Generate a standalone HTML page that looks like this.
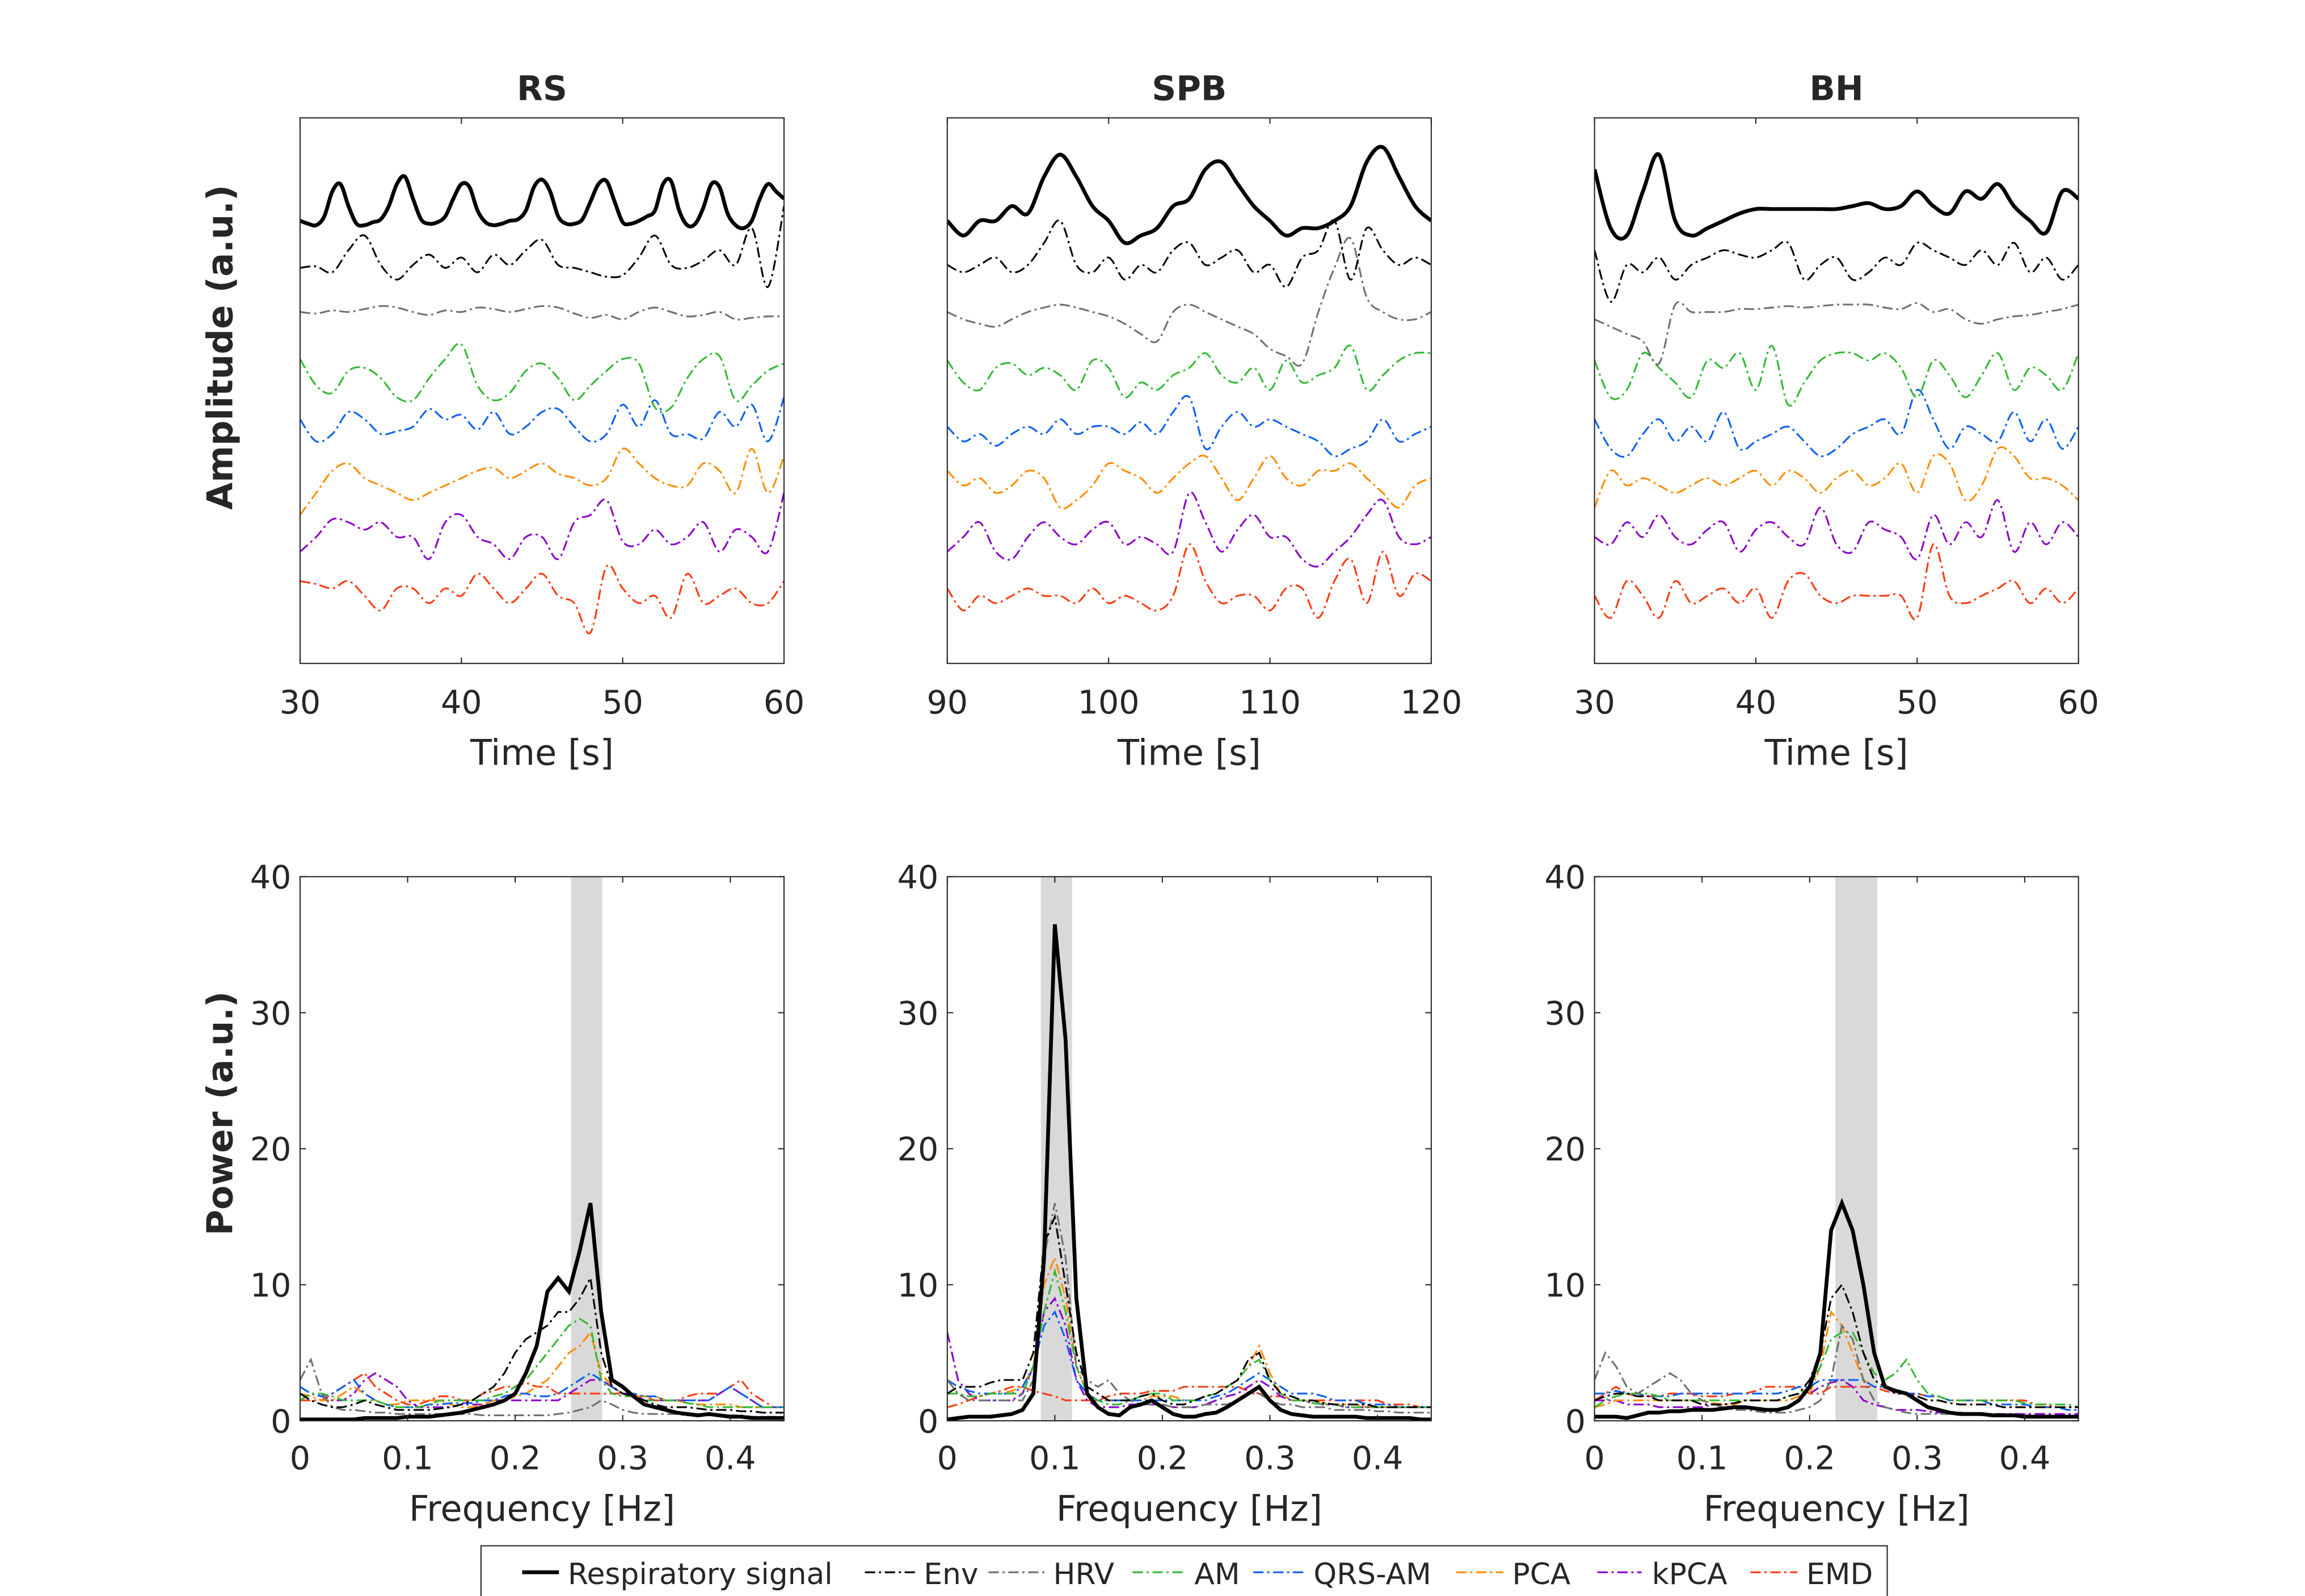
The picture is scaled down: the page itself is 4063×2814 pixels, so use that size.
<!DOCTYPE html>
<html><head><meta charset="utf-8"><style>
html,body{margin:0;padding:0;background:#fff}
svg{display:block}
text{font-family:"DejaVu Sans","Liberation Sans",sans-serif;fill:#262626}
</style></head><body>
<svg id="fig" width="4063" height="2814" viewBox="0 0 1567 1085" xmlns="http://www.w3.org/2000/svg"></svg>
<script>
// ---------- DATA ----------
const seriesNames = ["Respiratory signal","Env","HRV","AM","QRS-AM","PCA","kPCA","EMD"];
const seriesColors = ["#000000","#000000","#707070","#33b833","#0a5ff0","#ff8c00","#8a00c8","#ff3a10"];
const panelTitles = ["RS","SPB","BH"];
const timeStart = [30,90,30];
const timeTicks = [[30,40,50,60],[90,100,110,120],[30,40,50,60]];
const freqTicks = [0,0.1,0.2,0.3,0.4];
const freqTickLabels = ["0","0.1","0.2","0.3","0.4"];
const powerTicks = [0,10,20,30,40];
const bandLo = [0.252,0.087,0.224];
const bandHi = [0.281,0.116,0.263];
const baseRS = [296,266,239,189,161,121,86,46];
const baseSPB = [296,266,239,196,156,121,86,46];
const baseBH = [296,266,239,196,156,121,86,46];
// time-domain amplitudes (arbitrary units) relative to baselines
const rsResp = [5,3,2,8,25,30,15,3,2,4,6,15,30,35,20,6,3,4,8,20,30,28,12,4,2,3,5,6,12,28,33,25,8,3,3,6,18,30,32,18,4,3,5,8,12,30,32,12,2,3,14,30,28,10,2,0,5,20,30,25,20];
const rsEnv = [3,4,0,15,25,5,-5,5,12,3,10,0,12,5,15,22,5,3,0,-3,-2,10,25,5,3,8,15,5,30,-10,45];
const rsHRV = [0,-1,1,0,2,4,3,0,-2,1,0,3,2,0,2,4,3,-1,-4,-2,-5,0,3,0,-3,-2,0,-5,-4,-3,-3];
const rsAM = [18,0,-5,10,12,5,-8,-10,5,18,28,0,-10,-5,10,15,5,-10,0,10,18,15,-15,-15,5,18,20,-10,0,10,15];
const rsQRS = [5,-10,-5,10,5,-5,-3,0,12,5,8,-2,10,-5,0,10,12,0,-10,-5,15,0,18,-5,-5,-8,10,0,15,-10,20];
const rsPCA = [-20,-5,10,15,5,0,-5,-10,-5,0,5,10,12,5,10,15,8,5,0,5,25,15,5,0,0,15,10,-5,25,-5,20];
const rsKPCA = [-10,0,12,10,5,10,0,0,-15,10,15,0,-5,-15,0,0,-15,10,15,25,-3,-5,5,-5,0,10,-10,5,0,-10,30];
const rsEMD = [10,8,5,10,0,-10,5,5,-5,5,0,15,5,-5,5,15,0,-5,-25,20,5,-5,0,-15,15,-5,0,5,-5,-5,10];
const spbResp = [5,-5,5,5,15,10,35,50,35,15,5,-10,-5,0,15,20,40,45,30,15,5,-5,0,0,5,15,45,55,35,15,5];
const spbEnv = [5,0,5,10,0,5,20,35,5,0,10,-5,5,0,15,20,5,10,15,0,5,-10,10,15,35,-5,30,15,5,10,5];
const spbHRV = [0,-5,-8,-10,-5,0,3,5,3,0,-3,-8,-15,-20,0,5,0,-5,-10,-15,-25,-30,-35,0,30,50,10,0,-5,-5,0];
const spbAM = [10,-5,-10,5,8,0,5,0,-10,10,5,-15,-5,-10,0,5,15,0,-5,5,-10,10,-5,0,5,20,-10,0,10,15,15];
const spbQRS = [5,-5,0,-8,0,5,0,10,0,5,5,0,8,0,15,25,-10,5,15,5,10,5,0,-5,-15,-10,-5,10,-5,0,5];
const spbPCA = [10,0,5,-5,0,10,5,-15,-10,0,15,10,5,-5,5,15,20,5,-10,5,20,5,0,10,10,15,5,-5,-15,0,5];
const spbKPCA = [-10,0,10,-10,-15,0,10,0,-5,5,10,-5,0,-5,-10,30,10,-10,5,15,0,0,-15,-20,-10,0,15,25,0,-5,0];
const spbEMD = [5,-10,0,-5,0,5,0,0,-5,5,-5,0,-5,-10,0,35,10,-5,0,0,-10,5,5,-15,10,25,-5,30,0,15,10];
const bhResp = [40,0,-5,25,50,5,-5,0,5,10,13,13,13,13,13,13,15,17,13,15,25,15,10,25,20,30,15,5,-3,25,20];
const bhEnv = [15,-20,5,0,10,-5,5,10,15,12,10,15,20,-5,5,10,-5,0,10,5,20,15,10,5,15,5,20,0,10,-5,5];
const bhHRV = [-5,-10,-15,-20,-35,5,0,0,0,2,2,3,4,3,4,5,5,5,3,2,6,0,2,-5,-8,-5,-3,-2,0,2,5];
const bhAM = [10,-15,-10,15,5,-5,-15,10,5,15,-10,20,-20,-5,10,15,15,10,15,5,-15,10,0,-15,0,15,-10,5,0,-10,15];
const bhQRS = [10,-10,-15,0,10,-5,5,-5,15,-10,-5,0,5,-5,-15,-10,0,5,10,0,30,10,-10,5,0,-5,15,-5,10,-10,5];
const bhPCA = [-15,10,0,5,0,-5,0,5,0,5,10,0,10,5,-5,5,10,0,5,15,-5,20,15,-10,0,25,20,5,5,0,-10];
const bhKPCA = [0,-5,10,0,15,0,-5,5,10,-10,5,10,0,-5,20,-5,-10,10,5,0,-15,15,-5,10,0,25,-10,10,-5,10,0];
const bhEMD = [0,-15,10,0,-15,10,-5,0,5,-5,5,-15,10,15,0,-5,0,0,0,0,-15,35,0,-5,0,5,10,-5,5,-5,5];
// spectra, 0..0.45 Hz step 0.01
const rsPResp = [0.1,0.1,0.1,0.1,0.1,0.1,0.2,0.2,0.2,0.2,0.3,0.3,0.3,0.4,0.5,0.6,0.8,1.0,1.2,1.5,2.0,3.5,5.5,9.5,10.5,9.5,12.5,16,8,3,2.5,1.8,1.2,1.0,0.8,0.6,0.5,0.4,0.5,0.4,0.3,0.3,0.2,0.2,0.2,0.2];
const rsPEnv = [2,1.5,1.2,1,1,1.2,1.5,1.2,1,0.8,0.8,0.8,0.8,0.9,1,1.2,1.5,2,2.5,3.5,5,6,6.5,7,8,8,9,10.5,5,2.5,2,1.8,1.5,1.2,1,1,1,0.9,0.8,0.8,0.8,0.7,0.7,0.6,0.6,0.6];
const rsPHRV = [3,4.5,2,1,0.8,0.8,0.7,0.6,0.6,0.5,0.5,0.5,0.5,0.5,0.5,0.5,0.5,0.4,0.4,0.4,0.4,0.4,0.4,0.4,0.5,0.6,0.8,1,1.5,1.2,0.8,0.6,0.5,0.5,0.5,0.5,0.4,0.4,0.4,0.4,0.4,0.4,0.3,0.3,0.3,0.3];
const rsPAM = [1.5,2,2,1.8,1.5,1.5,1.5,1.5,1.2,1,1,1,1.2,1.5,1.5,1.5,1.5,1.5,1.8,2,2.5,3,4,5,6,7,7.5,7,3,2,1.8,1.8,1.5,1.5,1.5,1.5,1.3,1.2,1,1,1,1,1,1,1,1];
const rsPQRS = [2.5,2,1.8,2,2.5,3,2,1.5,1.2,1,1,1,1.2,1.2,1.3,1.3,1.3,1.5,1.5,1.8,2,2,1.8,1.8,2,2.5,3,3.5,3,2.5,2,2,1.8,1.8,1.5,1.5,1.5,1.5,1.5,2,2.5,2,1.5,1,1,1];
const rsPPCA = [2,1.8,1.5,1.5,2,2.5,2,1.5,1.2,1.2,1.5,1.5,1.5,1.5,1.2,1,1,1.2,1.5,1.5,1.8,2,2.5,3,4,5,5.5,6.5,3.5,2.5,2,1.8,1.8,1.8,1.5,1.5,1.3,1.2,1.2,1.2,1.2,1,1,1,1,1];
const rsPKPCA = [1.5,2,1.8,1.5,1.5,2,3,3.5,3,2.5,1.5,1,1,1,1,1.2,1.2,1.2,1.5,1.5,1.5,1.5,1.5,1.5,1.5,2,2.5,3,3,2.5,2,2,1.5,1.5,1.5,1.5,1.5,1.5,1.5,2,2.5,2,1.5,1,1,1];
const rsPEMD = [1.5,1.5,1.5,2,2.5,3,3.5,2.5,2,1.5,1.2,1.2,1.5,1.8,1.8,1.5,1.5,2,2.2,2.5,2.5,2.8,2.5,2.5,2,2,2,2,2,2,2,1.8,1.8,1.5,1.5,1.5,1.8,2,2,2,2.5,3,2,1.5,1,1];
const spbPResp = [0.1,0.2,0.3,0.3,0.3,0.4,0.5,0.8,2,12,36.5,28,9,2,1,0.5,0.4,1,1.2,1.5,1,0.5,0.3,0.3,0.5,0.6,1,1.5,2,2.5,1.5,0.8,0.5,0.4,0.3,0.3,0.3,0.3,0.3,0.2,0.2,0.2,0.2,0.2,0.1,0.1];
const spbPEnv = [2,2.5,2.5,2.5,2.8,3,3,3,5,13,15,10,5,2.5,2,1.5,1.5,1.5,1.8,2,1.5,1.2,1.2,1.5,1.8,2,2.5,3,4.5,5,3,2,1.8,1.5,1.5,1.3,1.2,1.2,1.2,1.2,1,1,1,1,1,1];
const spbPHRV = [3,2,1.5,1.5,1.5,1.5,1.5,1.5,3,12,16,12,4,3,2.5,3,2,1.5,1.2,1.2,1.2,1,1,1,1.2,1.2,1.2,1.5,2,2,1.5,1.2,1.2,1,1,1,0.8,0.8,0.8,0.8,0.7,0.7,0.6,0.6,0.6,0.6];
const spbPAM = [2,2,1.8,1.8,2,2,2,2,4,8,11,8,4,2,1.5,1.2,1.2,1.5,1.8,2,2,1.5,1.5,1.5,1.8,2,2.5,3,4,4.5,3,2,1.5,1.5,1.3,1.2,1.2,1,1,1,1,1,1,1,1,1];
const spbPQRS = [3,2.5,2.2,2,2,2,2,2.5,4,7,8,6,3,2,1.5,1.5,1.5,1.5,1.5,1.5,1.5,1.5,1.5,1.5,1.5,1.8,2,2.5,3,3.5,3,2.5,2,2,2,1.8,1.5,1.5,1.5,1.2,1.2,1.2,1,1,1,1];
const spbPPCA = [2,2,1.8,1.8,2,2,2.2,2.5,4,10,12,9,4,2,1.5,1.5,1.5,1.5,1.5,1.8,1.8,1.8,1.5,1.5,1.8,2,2.5,3,4,5.5,3.5,2,1.5,1.5,1.5,1.3,1.2,1.2,1.2,1,1,1,1,1,1,1];
const spbPKPCA = [6.5,3,2,1.5,1.5,1.5,1.5,2,4,8,9,7,3,1.5,1,1,1,1.2,1.2,1.2,1.2,1,1,1,1.2,1.5,1.8,2,2.5,3,2.5,1.8,1.5,1.5,1.3,1.2,1.2,1,1,1,1,1,1,1,1,1];
const spbPEMD = [1,1.2,1.5,1.8,2,2.2,2.5,2.5,2.2,2,1.8,1.5,1.5,1.5,1.5,1.8,2,2,2,2.2,2.2,2.2,2.5,2.5,2.5,2.5,2.5,2.5,2.2,2,1.8,1.8,1.5,1.5,1.5,1.5,1.5,1.5,1.5,1.5,1.5,1.2,1.2,1.2,1,1];
const bhPResp = [0.3,0.3,0.3,0.2,0.4,0.6,0.6,0.7,0.7,0.8,0.8,0.8,0.9,1,1,0.9,0.8,0.8,1,1.5,2.5,5,14,16,14,10,5,2.5,2.2,2,1.5,1,0.8,0.6,0.5,0.5,0.5,0.4,0.4,0.4,0.3,0.3,0.3,0.3,0.3,0.3];
const bhPEnv = [1.5,1.8,2,2,1.8,1.8,1.5,1.5,1.5,1.5,1.2,1.2,1.2,1.3,1.5,1.5,1.5,1.5,1.8,2,3,5,9,10,8,5,3,2.5,2,2,1.8,1.5,1.5,1.3,1.2,1.2,1.2,1.2,1,1,1,1,1,1,1,1];
const bhPHRV = [3,5,4,2.5,2,2.5,3,3.5,3,2,1.5,1.2,1,0.8,0.8,0.7,0.6,0.6,0.6,0.8,1,1.5,3,7,6,3,1.5,1,0.8,0.6,0.5,0.5,0.5,0.5,0.5,0.5,0.4,0.4,0.4,0.4,0.4,0.4,0.3,0.3,0.3,0.3];
const bhPAM = [1,1.5,1.8,2,2,2,1.8,1.5,1.5,1.5,1.5,1.5,1.5,1.5,1.5,1.5,1.5,1.5,1.8,2,2.5,4,6,6.5,6.5,5,3.5,3,3.5,4.5,3,2,1.8,1.5,1.5,1.5,1.5,1.5,1.5,1.5,1.3,1.2,1.2,1.2,1.2,1];
const bhPQRS = [2,2,2.2,2,2,1.8,1.8,1.8,2,2,2,2,2,2,2,2,2,2,2.2,2.5,2.5,3,3,3,3,3,2.5,2.5,2,2,2,1.8,1.8,1.5,1.5,1.5,1.5,1.2,1.2,1.2,1.2,1,1,1,0.8,0.8];
const bhPPCA = [1,1.2,1.5,1.5,1.5,1.5,1.5,1.5,1.5,1.5,1.5,1.3,1.2,1.2,1.5,1.5,1.5,1.5,1.5,1.8,2,4,8,7,5,3,2.5,2.5,2.2,2,1.8,1.5,1.5,1.3,1.2,1.2,1.2,1.2,1,1,1,1,1,1,1,1];
const bhPKPCA = [1.5,1.5,1.5,1.2,1.2,1.2,1,1,1,1,1,1.2,1.2,1.2,1.5,1.5,1.5,1.5,1.5,1.8,2,2.5,2.8,3,2.5,1.5,1.2,1,0.8,0.8,0.8,0.7,0.6,0.6,0.6,0.5,0.5,0.5,0.5,0.5,0.5,0.5,0.5,0.5,0.5,0.5];
const bhPEMD = [1.5,2,2.5,2,1.8,1.8,1.8,2,2,2,1.8,1.8,1.8,2,2,2.2,2.5,2.5,2.5,2.5,2,2,2.5,2.5,2.5,2.5,2.5,2.2,2,2,2,1.8,1.8,1.5,1.5,1.5,1.5,1.5,1.5,1.5,1.5,1.2,1.2,1,1,1];

const timeData = [
 [rsResp,rsEnv,rsHRV,rsAM,rsQRS,rsPCA,rsKPCA,rsEMD],
 [spbResp,spbEnv,spbHRV,spbAM,spbQRS,spbPCA,spbKPCA,spbEMD],
 [bhResp,bhEnv,bhHRV,bhAM,bhQRS,bhPCA,bhKPCA,bhEMD]];
const timeBase = [baseRS,baseSPB,baseBH];
const specData = [
 [rsPResp,rsPEnv,rsPHRV,rsPAM,rsPQRS,rsPPCA,rsPKPCA,rsPEMD],
 [spbPResp,spbPEnv,spbPHRV,spbPAM,spbPQRS,spbPPCA,spbPKPCA,spbPEMD],
 [bhPResp,bhPEnv,bhPHRV,bhPAM,bhPQRS,bhPPCA,bhPKPCA,bhPEMD]];

// ---------- RENDER ----------
const NS="http://www.w3.org/2000/svg";
const svg=document.getElementById('fig');
function mk(tag,attrs,parent){const e=document.createElementNS(NS,tag);for(const k in attrs)e.setAttribute(k,attrs[k]);(parent||svg).appendChild(e);return e;}
const panelX=[204,644,1084], PW=329;
const topY0=80, topY1=451, botY0=596, botY1=966;
const DASH="7,2.5,1.5,2.5";

function smoothPath(pts){
  let d="M"+pts[0][0].toFixed(2)+","+pts[0][1].toFixed(2);
  for(let i=0;i<pts.length-1;i++){
    const p0=pts[Math.max(0,i-1)],p1=pts[i],p2=pts[i+1],p3=pts[Math.min(pts.length-1,i+2)];
    const c1x=p1[0]+(p2[0]-p0[0])/6,c1y=p1[1]+(p2[1]-p0[1])/6;
    const c2x=p2[0]-(p3[0]-p1[0])/6,c2y=p2[1]-(p3[1]-p1[1])/6;
    d+=" C"+c1x.toFixed(2)+","+c1y.toFixed(2)+" "+c2x.toFixed(2)+","+c2y.toFixed(2)+" "+p2[0].toFixed(2)+","+p2[1].toFixed(2);
  }
  return d;
}

for(let p=0;p<3;p++){
  const x0=panelX[p];
  const g=mk('g',{});
  
  
  const t=mk('text',{x:x0+PW/2,y:68,'text-anchor':'middle','font-size':23,'font-weight':'bold'},g);
  t.textContent=panelTitles[p];
  
  
  const tx=v=>x0+(v-timeStart[p])/30*PW;
  const ty=v=>topY1-v/371*(topY1-topY0);
  const clipId='clipT'+p;
  const cp=mk('clipPath',{id:clipId},g);mk('rect',{x:x0,y:topY0,width:PW,height:topY1-topY0},cp);
  for(let s=seriesNames.length-1;s>=0;s--){
    const arr=timeData[p][s];const n=arr.length;
    const pts=arr.map((v,i)=>[tx(timeStart[p]+30*i/(n-1)),ty(timeBase[p][s]+v)]);
    const path=mk('path',{d:smoothPath(pts),fill:'none',stroke:seriesColors[s],'stroke-width':s===0?2.6:1.2,'stroke-dasharray':s===0?'none':DASH,'clip-path':'url(#'+clipId+')'},g);
    
    
  }
  mk('rect',{x:x0,y:topY0,width:PW,height:topY1-topY0,fill:'none',stroke:'#262626','stroke-width':0.8},g);
  timeTicks[p].forEach(v=>{
    const X=tx(v);
    mk('line',{x1:X,x2:X,y1:topY1,y2:topY1-4,stroke:'#262626','stroke-width':0.8},g);
    mk('line',{x1:X,x2:X,y1:topY0,y2:topY0+4,stroke:'#262626','stroke-width':0.8},g);
    const l=mk('text',{x:X,y:485,'text-anchor':'middle','font-size':22},g);l.textContent=v;
    
    
  });
  const xl=mk('text',{x:x0+PW/2,y:520,'text-anchor':'middle','font-size':24},g);xl.textContent='Time [s]';
  
  

  const h=mk('g',{});
  
  
  const fx=v=>x0+v/0.45*PW;
  const fy=v=>botY1-v/40*(botY1-botY0);
  const band=mk('rect',{x:fx(bandLo[p]),y:botY0,width:fx(bandHi[p])-fx(bandLo[p]),height:botY1-botY0,fill:'#d9d9d9'},h);
  
  
  const clipB='clipB'+p;
  const cb=mk('clipPath',{id:clipB},h);mk('rect',{x:x0,y:botY0,width:PW,height:botY1-botY0},cb);
  for(let s=seriesNames.length-1;s>=0;s--){
    const arr=specData[p][s];
    const d=arr.map((v,i)=>(i?'L':'M')+fx(i*0.01).toFixed(2)+','+fy(v).toFixed(2)).join(' ');
    const path=mk('path',{d:d,fill:'none',stroke:seriesColors[s],'stroke-width':s===0?2.6:1.2,'stroke-dasharray':s===0?'none':DASH,'clip-path':'url(#'+clipB+')'},h);
    
    
  }
  mk('rect',{x:x0,y:botY0,width:PW,height:botY1-botY0,fill:'none',stroke:'#262626','stroke-width':0.8},h);
  freqTicks.forEach((v,i)=>{
    const X=fx(v);
    mk('line',{x1:X,x2:X,y1:botY1,y2:botY1-4,stroke:'#262626','stroke-width':0.8},h);
    mk('line',{x1:X,x2:X,y1:botY0,y2:botY0+4,stroke:'#262626','stroke-width':0.8},h);
    const l=mk('text',{x:X,y:999,'text-anchor':'middle','font-size':22},h);l.textContent=freqTickLabels[i];
    
    
  });
  powerTicks.forEach(v=>{
    const Y=fy(v);
    mk('line',{x1:x0,x2:x0+4,y1:Y,y2:Y,stroke:'#262626','stroke-width':0.8},h);
    mk('line',{x1:x0+PW,x2:x0+PW-4,y1:Y,y2:Y,stroke:'#262626','stroke-width':0.8},h);
    const l=mk('text',{x:x0-6,y:Y+8,'text-anchor':'end','font-size':22},h);l.textContent=v;
    
    
  });
  const fl=mk('text',{x:x0+PW/2,y:1034,'text-anchor':'middle','font-size':24},h);fl.textContent='Frequency [Hz]';
  
  
}
const ya=mk('text',{x:0,y:0,'text-anchor':'middle','font-size':24,'font-weight':'bold',transform:'translate(158,236) rotate(-90)'});
ya.textContent='Amplitude (a.u.)';


const yp=mk('text',{x:0,y:0,'text-anchor':'middle','font-size':24,'font-weight':'bold',transform:'translate(158,757) rotate(-90)'});
yp.textContent='Power (a.u.)';



const lg=mk('g',{});


mk('rect',{x:327,y:1051,width:956,height:35,fill:'#fff',stroke:'#262626','stroke-width':0.8},lg);
const legLine=[[355,380],[588,622],[672,710],[770,806],[852,888],[990,1022],[1086,1116],[1190,1222]];
const legText=[386,628,716,812,893,1028,1123,1228];
for(let s=0;s<seriesNames.length;s++){
  const e=mk('g',{},lg);
  
  
  mk('line',{x1:legLine[s][0],x2:legLine[s][1],y1:1069,y2:1069,stroke:seriesColors[s],'stroke-width':s===0?2.6:1.2,'stroke-dasharray':s===0?'none':DASH},e);
  const tt=mk('text',{x:legText[s],y:1077,'font-size':20},e);tt.textContent=seriesNames[s];
}
</script>
</body></html>
